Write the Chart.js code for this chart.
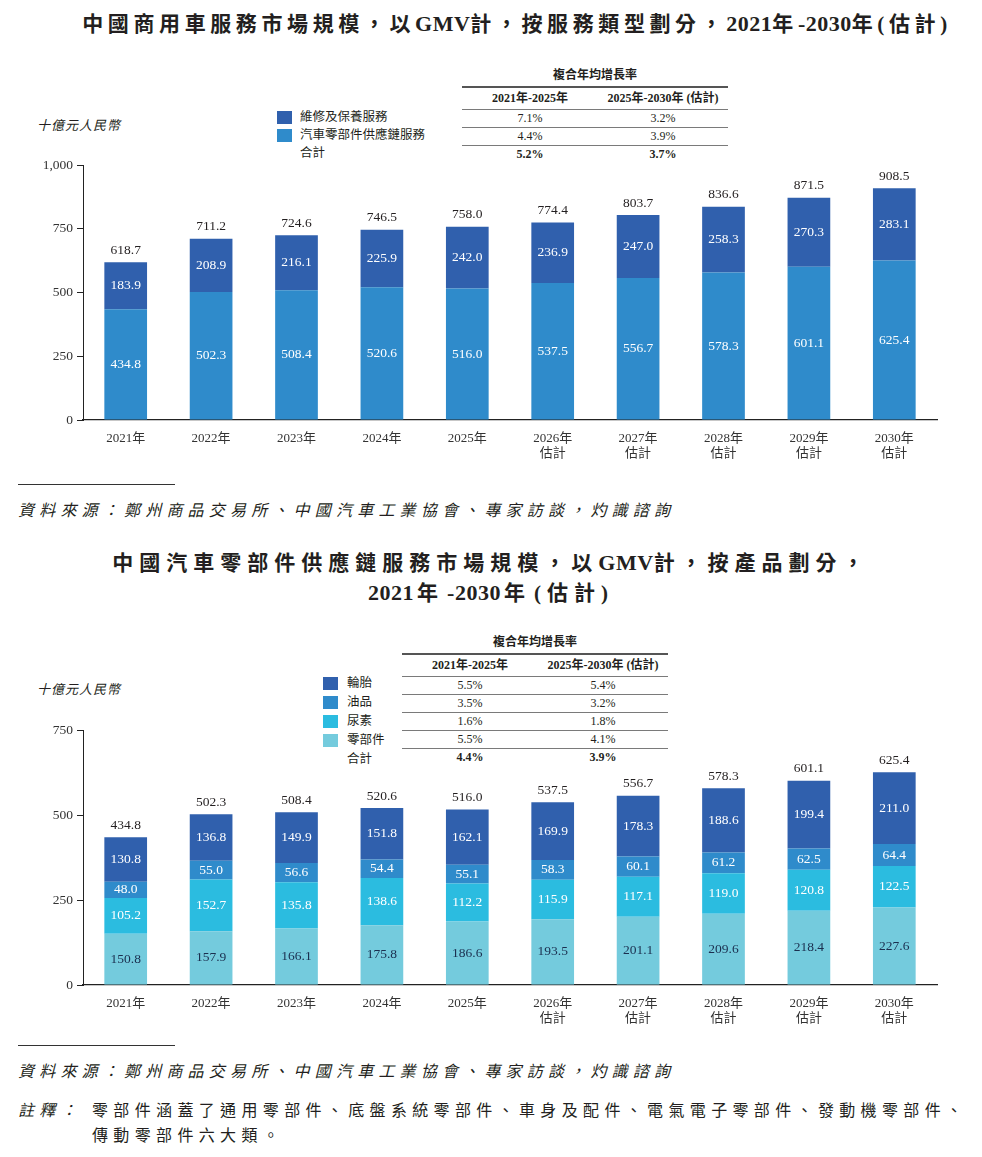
<!DOCTYPE html>
<html>
<head>
<meta charset="utf-8">
<script src="https://cdn.jsdelivr.net/npm/chart.js@4.4.0/dist/chart.umd.min.js"></script>
<style>
  body { margin: 0; background: #fff; }
  #page { position: relative; width: 982px; height: 1157px; overflow: hidden;
          font-family: "Liberation Serif", "Noto Sans CJK TC", serif; color: #231f20; }
  .abs { position: absolute; white-space: nowrap; }
  .title { font-size: 21px; font-weight: bold; letter-spacing: 4.6px; text-align: center; line-height: 30px; }
  .title .lat { letter-spacing: 0.5px; font-size: 22px; }
  .title .gap { margin: 0 3px; }
  .unit { font-size: 13px; font-style: italic; letter-spacing: 1px; }
  .src { font-size: 16px; font-style: italic; letter-spacing: 5.2px; }
  .note { font-size: 16px; letter-spacing: 5.35px; line-height: 25px; }
  .rule { position: absolute; height: 1px; background: #333; }
  .sw { position: absolute; width: 15px; height: 13px; }
  .leg { position: absolute; font-size: 12.5px; line-height: 14px; white-space: nowrap; }
  .cagr { position: absolute; font-size: 12px; }
  .cagr .row { display: flex; height: 17px; line-height: 17px; border-bottom: 1.5px solid #7a7a7a; }
  .cagr .row.top { border-top: 2px solid #555; height: 21px; line-height: 21px; }
  .cagr .row.last { border-bottom: none; font-weight: bold; }
  .cagr .row.hd { font-weight: bold; }
  .cagr .c { text-align: center; }
  .cagr .cap { text-align: center; font-weight: bold; height: 22px; line-height: 22px; }
  canvas { position: absolute; }
</style>
</head>
<body>
<div id="page">
  <div class="abs title" style="left:34px; width:966px; top:9px;">中國商用車服務市場規模，以<span class="lat">GMV</span>計，按服務類型劃分，<span class="lat">2021</span>年<span class="lat">-2030</span>年(估計)</div>
  <div class="abs unit" style="left:37px; top:115px;">十億元人民幣</div>
  <div id="leg1"></div>
  <div id="tab1" class="cagr" style="left:462px; top:64px; width:266px;"></div>
  <canvas id="chart1" style="left:0; top:140px;" width="982" height="320"></canvas>
  <div class="rule" style="left:18px; top:484px; width:157px;"></div>
  <div class="abs src" style="left:18px; top:497px;">資料來源：鄭州商品交易所、中國汽車工業協會、專家訪談，灼識諮詢</div>

  <div class="abs title" style="left:0; width:982px; top:548px; letter-spacing:6px;">中國汽車零部件供應鏈服務市場規模，以<span class="lat">GMV</span>計，按產品劃分，<br><span class="lat">2021</span><span class="gap">年</span><span class="lat">-2030</span><span class="gap">年</span>(估計)</div>
  <div class="abs unit" style="left:37px; top:679px;">十億元人民幣</div>
  <div id="leg2"></div>
  <div id="tab2" class="cagr" style="left:402px; top:631px; width:266px;"></div>
  <canvas id="chart2" style="left:0; top:705px;" width="982" height="320"></canvas>
  <div class="rule" style="left:18px; top:1045px; width:157px;"></div>
  <div class="abs src" style="left:18px; top:1058px;">資料來源：鄭州商品交易所、中國汽車工業協會、專家訪談，灼識諮詢</div>
  <div class="abs note" style="left:18px; top:1098px;"><span style="font-style:italic;">註釋：</span></div>
  <div class="abs note" style="left:92px; top:1098px;">零部件涵蓋了通用零部件、底盤系統零部件、車身及配件、電氣電子零部件、發動機零部件、<br>傳動零部件六大類。</div>
</div>

<script>
// ---- data ----
const years = [["2021年"], ["2022年"], ["2023年"], ["2024年"], ["2025年"],
               ["2026年", "估計"], ["2027年", "估計"], ["2028年", "估計"], ["2029年", "估計"], ["2030年", "估計"]];

// chart 1: 商用車服務
const supplyChain = [434.8, 502.3, 508.4, 520.6, 516.0, 537.5, 556.7, 578.3, 601.1, 625.4];
const maintenance = [183.9, 208.9, 216.1, 225.9, 242.0, 236.9, 247.0, 258.3, 270.3, 283.1];
const totals1 = [618.7, 711.2, 724.6, 746.5, 758.0, 774.4, 803.7, 836.6, 871.5, 908.5];
const yTicks1 = [0, 250, 500, 750, 1000];

// chart 2: 零部件供應鏈
const parts = [150.8, 157.9, 166.1, 175.8, 186.6, 193.5, 201.1, 209.6, 218.4, 227.6];
const urea = [105.2, 152.7, 135.8, 138.6, 112.2, 115.9, 117.1, 119.0, 120.8, 122.5];
const oil = [48.0, 55.0, 56.6, 54.4, 55.1, 58.3, 60.1, 61.2, 62.5, 64.4];
const tires = [130.8, 136.8, 149.9, 151.8, 162.1, 169.9, 178.3, 188.6, 199.4, 211.0];
const totals2 = [434.8, 502.3, 508.4, 520.6, 516.0, 537.5, 556.7, 578.3, 601.1, 625.4];
const yTicks2 = [0, 250, 500, 750];

// CAGR tables
const cagrCaption = "複合年均增長率";
const cagrHead = ["2021年-2025年", "2025年-2030年 (估計)"];
const cagr1 = [["7.1%", "3.2%"], ["4.4%", "3.9%"], ["5.2%", "3.7%"]];
const cagr2 = [["5.5%", "5.4%"], ["3.5%", "3.2%"], ["1.6%", "1.8%"], ["5.5%", "4.1%"], ["4.4%", "3.9%"]];

const DARK = "#3060ad", MID = "#2f8bcb", CYAN = "#2bbce0", LIGHT = "#74cbdd";
const FONT = '"Liberation Serif", "Noto Sans CJK TC", serif';

// ---- legends & tables ----
function buildLegend(el, left, top, items, textLeft) {
    let html = "";
    items.forEach((it, i) => {
        const y = top + i * it.step;
        if (it.color) html += `<div class="sw" style="left:${left}px; top:${y}px; background:${it.color};"></div>`;
        html += `<div class="leg" style="left:${textLeft}px; top:${y - 1}px;">${it.name}</div>`;
    });
    el.innerHTML = html;
}

function buildTable(el, rows) {
    let html = `<div class="cap">${cagrCaption}</div>`;
    html += `<div class="row top hd"><div class="c" style="width:136px">${cagrHead[0]}</div><div class="c" style="width:130px">${cagrHead[1]}</div></div>`;
    rows.forEach((r, i) => {
        const cls = i === rows.length - 1 ? "row last" : "row";
        html += `<div class="${cls}"><div class="c" style="width:136px">${r[0]}</div><div class="c" style="width:130px">${r[1]}</div></div>`;
    });
    el.innerHTML = html;
}

buildLegend(document.getElementById("leg1"), 277, 111, [
    { name: "維修及保養服務", color: DARK, step: 17.5 },
    { name: "汽車零部件供應鏈服務", color: MID, step: 17.5 },
    { name: "合計", color: null, step: 18 }
], 300);
buildLegend(document.getElementById("leg2"), 323, 677, [
    { name: "輪胎", color: DARK, step: 19 },
    { name: "油品", color: MID, step: 19 },
    { name: "尿素", color: CYAN, step: 19 },
    { name: "零部件", color: LIGHT, step: 19 },
    { name: "合計", color: null, step: 19 }
], 347);
buildTable(document.getElementById("tab1"), cagr1);
buildTable(document.getElementById("tab2"), cagr2);

// ---- value labels plugin ----
const valueLabels = {
    id: "valueLabels",
    afterDatasetsDraw(chart, args, opts) {
        const ctx = chart.ctx;
        ctx.save();
        ctx.font = "13.5px " + FONT;
        ctx.textAlign = "center";
        ctx.textBaseline = "middle";
        chart.data.datasets.forEach((ds, i) => {
            chart.getDatasetMeta(i).data.forEach((bar, j) => {
                ctx.fillStyle = ds.labelColor;
                ctx.fillText(ds.data[j].toFixed(1), bar.x, (bar.y + bar.base) / 2);
            });
        });
        const last = chart.data.datasets.length - 1;
        ctx.fillStyle = "#231f20";
        opts.totals.forEach((t, j) => {
            const bar = chart.getDatasetMeta(last).data[j];
            ctx.fillText(t.toFixed(1), bar.x, bar.y - 12);
        });
        ctx.restore();
    }
};

function makeChart(id, datasets, totals, ticks) {
    const max = ticks[ticks.length - 1];
    return new Chart(document.getElementById(id), {
        type: "bar",
        data: { labels: years, datasets: datasets },
        options: {
            responsive: false,
            animation: false,
            layout: { padding: { left: 0, right: 45, top: 25, bottom: 0 } },
            plugins: { legend: { display: false }, tooltip: { enabled: false }, valueLabels: { totals: totals } },
            datasets: { bar: { categoryPercentage: 1, barPercentage: 0.5 } },
            scales: {
                x: {
                    stacked: true,
                    grid: { display: false },
                    border: { display: true, color: "#222", width: 1.2 },
                    ticks: { color: "#333", font: { family: FONT, size: 13, lineHeight: 1.15 }, padding: 3 },
                    afterFit(s) { s.height = 40; }
                },
                y: {
                    stacked: true,
                    min: 0, max: max,
                    afterBuildTicks(s) { s.ticks = ticks.map(v => ({ value: v })); },
                    grid: { drawOnChartArea: false, drawTicks: true, tickLength: 6, color: "#222" },
                    border: { display: true, color: "#222", width: 1 },
                    ticks: {
                        color: "#333", padding: 4,
                        font: { family: FONT, size: 13.5 },
                        callback: v => v.toLocaleString("en-US")
                    },
                    afterFit(s) { s.width = 83; }
                }
            }
        },
        plugins: [valueLabels]
    });
}

makeChart("chart1", [
    { label: "汽車零部件供應鏈服務", data: supplyChain, backgroundColor: MID, labelColor: "#fff" },
    { label: "維修及保養服務", data: maintenance, backgroundColor: DARK, labelColor: "#fff" }
], totals1, yTicks1);

makeChart("chart2", [
    { label: "零部件", data: parts, backgroundColor: LIGHT, labelColor: "#1b2f4f" },
    { label: "尿素", data: urea, backgroundColor: CYAN, labelColor: "#fff" },
    { label: "油品", data: oil, backgroundColor: MID, labelColor: "#fff" },
    { label: "輪胎", data: tires, backgroundColor: DARK, labelColor: "#fff" }
], totals2, yTicks2);
</script>
</body>
</html>
